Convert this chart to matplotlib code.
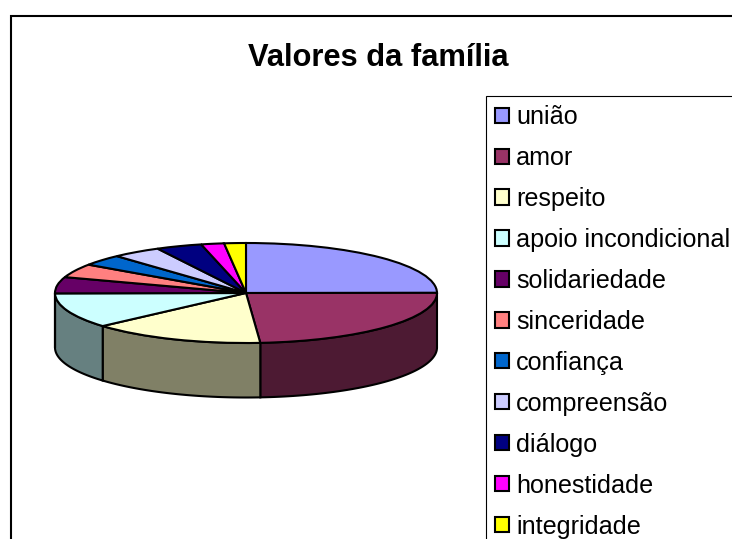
import numpy as np
import matplotlib
matplotlib.use("Agg")
import matplotlib.pyplot as plt
from matplotlib.colors import to_rgb
from matplotlib.patches import Rectangle

plt.rcParams["font.family"] = ["Liberation Sans", "DejaVu Sans"]

labels = ["união", "amor", "respeito", "apoio incondicional", "solidariedade",
          "sinceridade", "confiança", "compreensão", "diálogo", "honestidade",
          "integridade"]
# as slice sizes in degrees
values = [90, 86, 53, 41, 19, 16, 13, 15, 14, 7, 6.6]
colors = ["#9999FF", "#993366", "#FFFFCC", "#CCFFFF", "#660066", "#FF8080",
          "#0066CC", "#CCCCFF", "#000080", "#FF00FF", "#FFFF00"]

W, H = 732, 539
CX, CY, RX, RY = 246, 293, 191, 50   # pie centre and radii in pixels
DEPTH = 1.09                         # side height, in units of RY


def px_rect(x0, y0, x1, y1, **kw):
    # rectangle given in image pixels (y down)
    return Rectangle((x0 / W, 1 - y1 / H), (x1 - x0) / W, (y1 - y0) / H,
                     transform=fig.transFigure, fill=False, edgecolor="black", **kw)


fig = plt.figure(figsize=(W / 100, H / 100), dpi=100, facecolor="white")
ax = fig.add_axes([0, 0, 1, 1])

wedges, _ = ax.pie(values, colors=colors, startangle=90, counterclock=False,
                   wedgeprops=dict(edgecolor="black", linewidth=1.5, zorder=3))

# squash the pie into an ellipse
ax.set_aspect("auto")
ax.set_xlim(-CX / RX, (W - CX) / RX)
ax.set_ylim((CY - H) / RY, CY / RY)
ax.axis("off")

# front wall of the pie, darker shade of each slice
for w, col in zip(wedges, colors):
    lo, hi = max(w.theta1, -180), min(w.theta2, 0)
    if hi <= lo:
        continue
    t = np.radians(np.linspace(lo, hi, 60))
    xs = np.cos(t)
    ys = np.sin(t)
    shade = tuple(c * 0.5 for c in to_rgb(col))
    ax.fill(np.r_[xs, xs[::-1]], np.r_[ys, ys[::-1] - DEPTH],
            facecolor=shade, edgecolor="black", linewidth=1.5, zorder=2)

# chart frame and legend box both run off the image
fig.add_artist(px_rect(10.5, 15.5, W + 10, H + 10, linewidth=1.5))
fig.add_artist(px_rect(485.5, 95.5, W + 10, H + 10, linewidth=0.8))

fig.text(378 / W, 1 - 58 / H, "Valores da família", ha="center", va="center",
         fontsize=22.2, fontweight="bold")

leg = fig.legend(wedges, labels, loc="upper left", bbox_to_anchor=(495 / W, 1 - 105 / H),
                 frameon=False, fontsize=18.1, handlelength=0.55, handleheight=0.55,
                 handletextpad=0.3, labelspacing=0.675, borderpad=0, borderaxespad=0)

fig.savefig("out.png", dpi=100, facecolor="white")
